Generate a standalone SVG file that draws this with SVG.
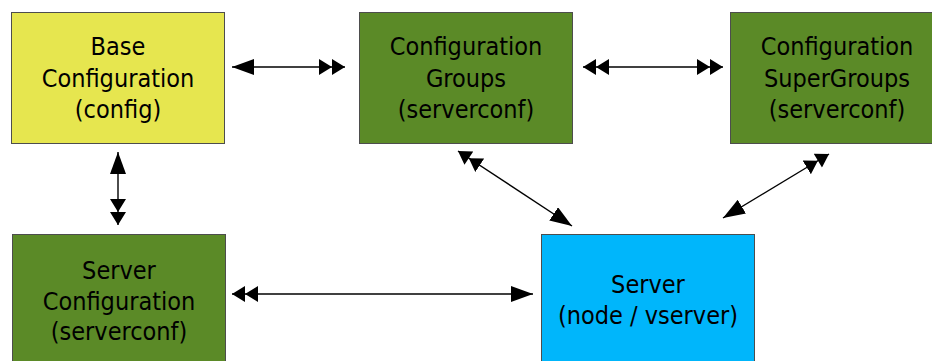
<svg xmlns="http://www.w3.org/2000/svg" width="932" height="361" viewBox="0 0 932 361">
<style>
.box{stroke:#4d4d4d;stroke-width:1}
.yellow{fill:#e6e64f}
.green{fill:#5b8a27}
.blue{fill:#00b6fb}
text{font-family:"DejaVu Sans Condensed","DejaVu Sans",Verdana,sans-serif;font-stretch:condensed;font-size:25px;fill:#000;text-anchor:middle}
.conn line{stroke:#000;stroke-width:1.4;fill:none}
</style>
<defs>
<marker id="s" viewBox="0 0 22 16" refX="22" refY="8" markerWidth="22" markerHeight="16" markerUnits="userSpaceOnUse" orient="auto-start-reverse">
<path d="M0,0 L22,8 L0,16 z" fill="#000"/>
</marker>
<marker id="d" viewBox="0 0 26 16" refX="26" refY="8" markerWidth="26" markerHeight="16" markerUnits="userSpaceOnUse" orient="auto-start-reverse">
<path d="M0,0 L13,8 L0,16 z M13,0 L26,8 L13,16 z" fill="#000"/>
</marker>
</defs>
<rect width="932" height="361" fill="#fff"/>
<g id="base">
<rect class="box yellow" x="11.5" y="12.5" width="213" height="131"/>
<text x="118" y="55">Base</text>
<text x="118" y="87">Configuration</text>
<text x="118" y="118">(config)</text>
</g>
<g id="groups">
<rect class="box green" x="359.5" y="12.5" width="213" height="131"/>
<text x="466" y="55">Configuration</text>
<text x="466" y="87">Groups</text>
<text x="466" y="118">(serverconf)</text>
</g>
<g id="supergroups">
<rect class="box green" x="730.5" y="12.5" width="213" height="131"/>
<text x="837" y="55">Configuration</text>
<text x="837" y="87">SuperGroups</text>
<text x="837" y="118">(serverconf)</text>
</g>
<g id="serverconf">
<rect class="box green" x="12.5" y="234.5" width="213" height="140"/>
<text x="119" y="279">Server</text>
<text x="119" y="310">Configuration</text>
<text x="119" y="340">(serverconf)</text>
</g>
<g id="server">
<rect class="box blue" x="541.5" y="234.5" width="213" height="140"/>
<text x="648" y="293">Server</text>
<text x="648" y="324">(node / vserver)</text>
</g>
<g class="conn" id="connectors">
<line x1="232" y1="67" x2="345" y2="67" marker-start="url(#s)" marker-end="url(#d)"/>
<line x1="583" y1="67" x2="723" y2="67" marker-start="url(#d)" marker-end="url(#d)"/>
<line x1="118" y1="152" x2="118" y2="225" marker-start="url(#s)" marker-end="url(#d)"/>
<line x1="458" y1="151" x2="572" y2="226" marker-start="url(#d)" marker-end="url(#s)"/>
<line x1="829" y1="154" x2="723" y2="218" marker-start="url(#d)" marker-end="url(#s)"/>
<line x1="232" y1="294" x2="533" y2="294" marker-start="url(#d)" marker-end="url(#s)"/>
</g>
</svg>
